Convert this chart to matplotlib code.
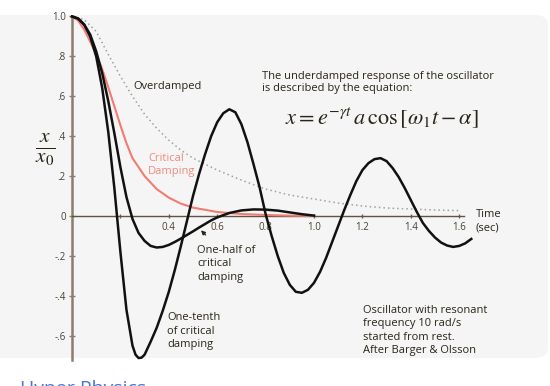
import matplotlib
matplotlib.use("Agg")
import matplotlib.pyplot as plt
from matplotlib.patches import FancyBboxPatch

plt.rcParams['font.family'] = ['Open Sans', 'DejaVu Sans']
plt.rcParams['mathtext.fontset'] = 'stix'

# one-tenth of critical damping
t_tenth = [0, 0.025, 0.05, 0.075, 0.1, 0.125, 0.15, 0.175, 0.2, 0.225, 0.25, 0.2625, 0.275,
           0.2875, 0.3, 0.325, 0.35, 0.375, 0.4, 0.425, 0.45, 0.475, 0.5, 0.525, 0.55, 0.575,
           0.6, 0.625, 0.65, 0.675, 0.7, 0.725, 0.75, 0.775, 0.8, 0.825, 0.85, 0.875,
           0.9, 0.925, 0.95, 0.975, 1.0, 1.025, 1.05, 1.075, 1.1, 1.125, 1.15, 1.175,
           1.2, 1.225, 1.25, 1.275, 1.3, 1.325, 1.35, 1.375, 1.4, 1.425, 1.45, 1.475,
           1.5, 1.525, 1.55, 1.575, 1.6, 1.625, 1.65]
x_tenth = [1.0, 0.99, 0.96, 0.90, 0.80, 0.64, 0.42, 0.14, -0.18, -0.47, -0.65, -0.695, -0.712,
           -0.71, -0.695, -0.63, -0.56, -0.475, -0.38, -0.27, -0.15, -0.025, 0.10, 0.21, 0.31, 0.40,
           0.47, 0.515, 0.535, 0.52, 0.46, 0.37, 0.26, 0.145, 0.01, -0.10, -0.20, -0.285,
           -0.345, -0.38, -0.385, -0.37, -0.335, -0.28, -0.21, -0.13, -0.05, 0.03, 0.105, 0.175,
           0.23, 0.265, 0.285, 0.29, 0.275, 0.24, 0.195, 0.14, 0.08, 0.02, -0.035, -0.075,
           -0.108, -0.133, -0.148, -0.155, -0.150, -0.137, -0.115]

# one-half of critical damping
t_half = [0, 0.025, 0.05, 0.075, 0.1, 0.125, 0.15, 0.175, 0.2, 0.225, 0.25, 0.275,
          0.3, 0.325, 0.35, 0.375, 0.4, 0.425, 0.45, 0.475, 0.5, 0.525, 0.55, 0.575,
          0.6, 0.65, 0.7, 0.75, 0.8, 0.85, 0.9, 0.95, 1.0]
x_half = [1.0, 0.99, 0.96, 0.91, 0.825, 0.715, 0.575, 0.415, 0.245, 0.095, -0.015, -0.085,
          -0.125, -0.15, -0.158, -0.155, -0.145, -0.13, -0.113, -0.095, -0.077, -0.058, -0.04, -0.022,
          -0.007, 0.015, 0.028, 0.033, 0.032, 0.027, 0.018, 0.009, 0.002]

# critical damping
t_crit = [0, 0.025, 0.05, 0.075, 0.1, 0.125, 0.15, 0.175, 0.2, 0.225, 0.25, 0.3, 0.35,
          0.4, 0.45, 0.5, 0.6, 0.7, 0.8, 0.9, 1.0]
x_crit = [1.0, 0.98, 0.935, 0.875, 0.81, 0.735, 0.645, 0.55, 0.455, 0.365, 0.29, 0.20, 0.135,
          0.092, 0.062, 0.042, 0.02, 0.01, 0.005, 0.002, 0.0]

# overdamped
t_over = [0, 0.05, 0.1, 0.15, 0.2, 0.25, 0.3, 0.35, 0.4, 0.45, 0.5, 0.55, 0.6,
          0.7, 0.8, 0.9, 1.0, 1.1, 1.2, 1.3, 1.4, 1.5, 1.6]
x_over = [1.0, 0.985, 0.925, 0.81, 0.70, 0.60, 0.51, 0.44, 0.38, 0.33, 0.29, 0.26, 0.23,
          0.18, 0.135, 0.105, 0.085, 0.065, 0.05, 0.04, 0.035, 0.03, 0.027]

yticks = [1.0, 0.8, 0.6, 0.4, 0.2, 0, -0.2, -0.4, -0.6]
ytick_labels = ['1.0', '.8', '.6', '.4', '.2', '0', '-.2', '-.4', '-.6']
xticks = [0.2, 0.4, 0.6, 0.8, 1.0, 1.2, 1.4, 1.6]
xtick_labels = ['', '0.4', '0.6', '0.8', '1.0', '1.2', '1.4', '1.6']

W, H = 550, 386
fig = plt.figure(figsize=(5.5, 3.86), dpi=100)
fig.patch.set_facecolor('white')

def fx(x):
    return x / W

def fy(y):
    return 1 - y / H

# grey panel behind the plot
panel = FancyBboxPatch((fx(-20), fy(358)), fx(568), fy(15) - fy(358),
                       boxstyle="round,pad=0,rounding_size=0.025",
                       transform=fig.transFigure, facecolor='#f5f5f5',
                       edgecolor='none', zorder=-10)
fig.patches.append(panel)

# axes mapped so t=0 sits at x=72 px and x=0 at y=216 px
ax = fig.add_axes([0, 0, 1, 1])
ax.patch.set_visible(False)
ax.set_xlim(-72 / 242, (W - 72) / 242)
ax.set_ylim((216 - H) / 199.5, 216 / 199.5)

ax.plot(t_over, x_over, color='#a0a0a0', lw=1.1, linestyle=(0, (1.0, 2.0)), zorder=2)
ax.plot(t_crit, x_crit, color='#f27b72', lw=1.5, zorder=3)
ax.plot(t_half, x_half, color='#111111', lw=1.8, zorder=4, solid_joinstyle='round')
ax.plot(t_tenth, x_tenth, color='#111111', lw=1.8, zorder=4, solid_joinstyle='round')

axis_col = '#8c7d6c'
for s in ['top', 'right']:
    ax.spines[s].set_visible(False)
ax.spines['left'].set_position(('data', 0))
ax.spines['left'].set_bounds(-0.72, 1.0)
ax.spines['left'].set_color(axis_col)
ax.spines['left'].set_linewidth(1.8)
ax.spines['bottom'].set_position(('data', 0))
ax.spines['bottom'].set_bounds(0, 1.62)
ax.spines['bottom'].set_color('#5e5346')
ax.spines['bottom'].set_linewidth(1.0)

ax.set_yticks(yticks)
ax.set_yticklabels(ytick_labels)
ax.set_xticks(xticks)
ax.set_xticklabels(xtick_labels)
ax.tick_params(axis='y', direction='inout', length=5, width=1.0, color=axis_col,
               labelsize=7, labelcolor='#4a4033', pad=2)
ax.tick_params(axis='x', direction='inout', length=3, width=1.0, color='#6b5f52',
               labelsize=7, labelcolor='#4a4033', pad=3)

txt = '#2a2418'
fs = 8
fig.text(fx(133), fy(86), 'Overdamped', fontsize=fs, color=txt, va='center')
fig.text(fx(148), fy(165), 'Critical\nDamping', fontsize=fs, color='#f08a80',
         va='center', linespacing=1.3)
fig.text(fx(262), fy(82.5), 'The underdamped response of the oscillator\nis described by the equation:',
         fontsize=fs, color=txt, va='center', linespacing=1.25)
fig.text(fx(382), fy(118), r'$x = e^{-\gamma t}\,a\,\cos\left[\omega_1 t - \alpha\right]$',
         fontsize=16, color=txt, ha='center', va='center')
fig.text(fx(476), fy(221), 'Time\n(sec)', fontsize=fs, color=txt, va='center', linespacing=1.3)
fig.text(fx(197), fy(264), 'One-half of\ncritical\ndamping', fontsize=fs, color=txt,
         va='center', linespacing=1.3)
fig.text(fx(167), fy(331), 'One-tenth\nof critical\ndamping', fontsize=fs, color=txt,
         va='center', linespacing=1.25)
fig.text(fx(363), fy(330.5), 'Oscillator with resonant\nfrequency 10 rad/s\nstarted from rest.\nAfter Barger & Olsson',
         fontsize=fs, color=txt, va='center', linespacing=1.3)
fig.text(fx(45), fy(150), r'$\frac{x}{x_0}$', fontsize=22, color=txt, ha='center', va='center')

ax.annotate('', xy=(0.525, -0.062), xytext=(0.56, -0.105),
            arrowprops=dict(arrowstyle='-|>', color=txt, lw=0.9, mutation_scale=6))

fig.text(fx(20), fy(380), 'Hyper Physics', fontsize=14, color='#4a72d9', va='top')

fig.savefig('out.png', dpi=100, facecolor='white')
